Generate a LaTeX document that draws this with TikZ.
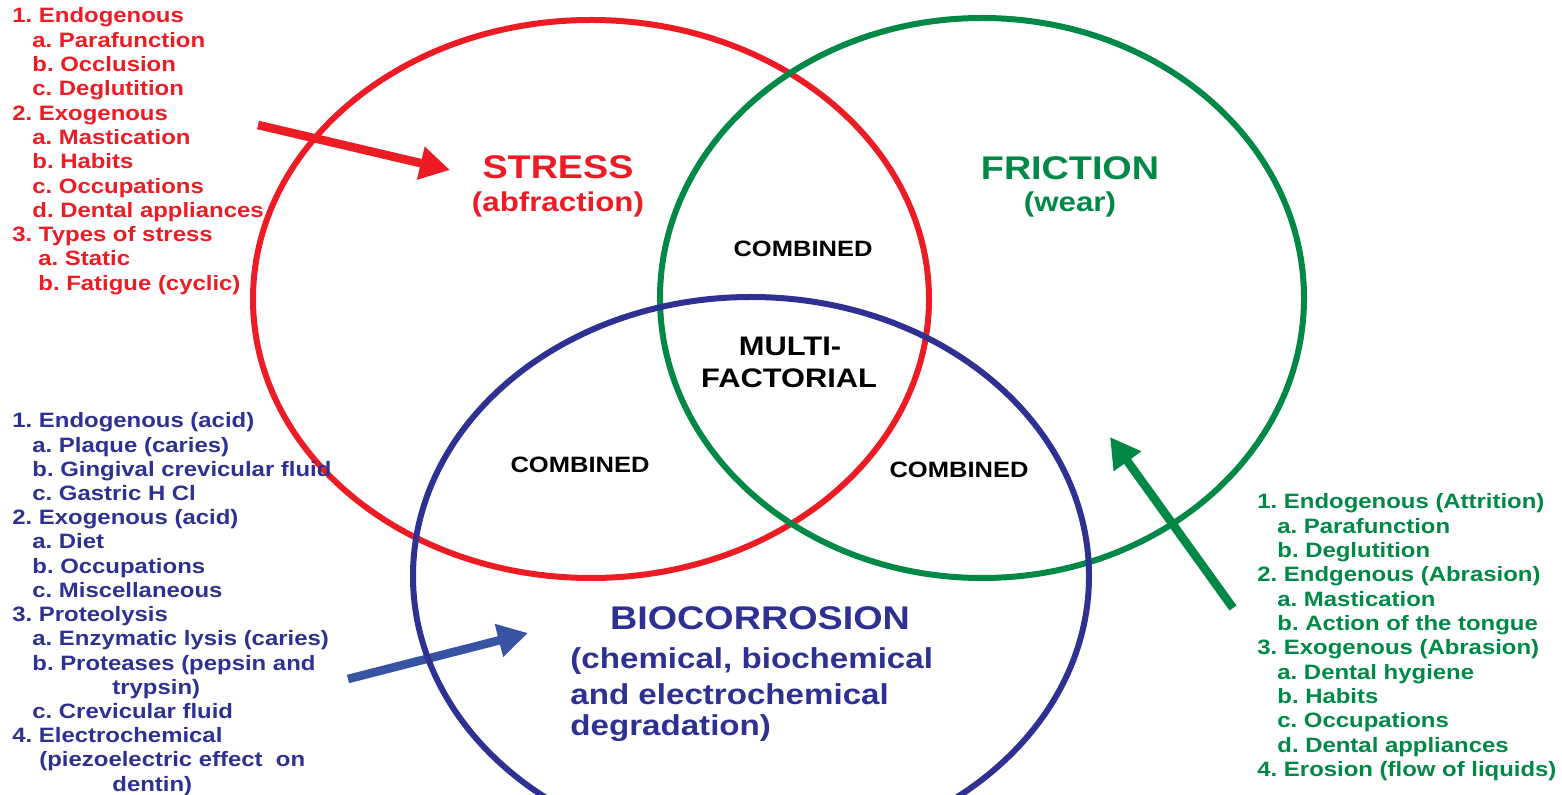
\documentclass[tikz,border=0pt]{standalone}
\usepackage{fontspec}
\setmainfont{Liberation Sans}[FakeStretch=1.15]
\usetikzlibrary{arrows.meta}
\frenchspacing
\definecolor{cred}{RGB}{237,28,36}
\definecolor{cgreen}{RGB}{0,137,70}
\definecolor{cblue}{RGB}{46,49,146}
\definecolor{cbluearr}{RGB}{56,82,164}
\tikzset{
  ring/.style={line width=3pt},
  bigarr/.style={line width=4.3pt, -{Triangle[length=15pt,width=16pt]}},
  lst/.style={anchor=base west, inner sep=0pt, font=\bfseries\fontsize{10.4}{12}\selectfont},
  head/.style={inner sep=0pt, font=\bfseries\fontsize{16.4}{18}\selectfont},
  subhead/.style={inner sep=0pt, font=\bfseries\fontsize{13.6}{15}\selectfont},
  comb/.style={inner sep=0pt, font=\bfseries\fontsize{11.1}{12}\selectfont},
  multi/.style={inner sep=0pt, font=\bfseries\fontsize{13.4}{15}\selectfont},
  bio/.style={inner sep=0pt, anchor=west, text=cblue, font=\bfseries\fontsize{14.4}{16}\selectfont},
}
\begin{document}
\begin{tikzpicture}[x=0.5pt,y=-0.5pt]
\useasboundingbox (0,0) rectangle (1562,795);
\clip (0,0) rectangle (1562,795);
% arrow end points
\coordinate (rtail) at (258,125);
\coordinate (rtip) at (450,170);
\coordinate (btail) at (348,679);
\coordinate (btip) at (528,633);
\coordinate (gtail) at (1233,608);
\coordinate (gtip) at (1110,437);
\draw[bigarr, cred] (rtail) -- (rtip);
\draw[bigarr, cbluearr] (btail) -- (btip);
% circles
\draw[ring, cred] (591,299) ellipse [x radius=338, y radius=279];
\draw[ring, cgreen] (982,298) ellipse [x radius=322, y radius=280];
\draw[ring, cblue] (751,576) ellipse [x radius=338, y radius=279];
\draw[bigarr, cgreen] (gtail) -- (gtip);
% headings
\node[head, text=cred] (stress) at (558,167) {STRESS};
\node[subhead, text=cred] (abfr) at (558,204) {(abfraction)};
\node[head, text=cgreen] (fric) at (1070,168) {FRICTION};
\node[subhead, text=cgreen] (wear) at (1070,204) {(wear)};
\node[comb] (c1) at (803,249) {COMBINED};
\node[comb] (c2) at (580,465) {COMBINED};
\node[comb] (c3) at (959,470) {COMBINED};
\node[multi] (m1) at (790,346) {MULTI-};
\node[multi] (m2) at (789,378) {FACTORIAL};
\node[head, text=cblue] (bioc) at (760,618) {BIOCORROSION};
\node[bio] (b1) at (570,661) {(chemical, biochemical};
\node[bio] (b2) at (570,694) {and electrochemical};
\node[bio] (b3) at (570,728) {degradation)};
% red list
\foreach \x/\t [count=\i from 0] in {12/{1. Endogenous},32/{a. Parafunction},32/{b. Occlusion},32/{c. Deglutition},12/{2. Exogenous},32/{a. Mastication},32/{b. Habits},32/{c. Occupations},32/{d. Dental appliances},12/{3. Types of stress},38/{a. Static},38/{b. Fatigue (cyclic)}}
  \node[lst, text=cred] (r\i) at (\x,{23+24.3*\i}) {\t};
% blue list
\foreach \x/\t [count=\i from 0] in {12/{1. Endogenous (acid)},32/{a. Plaque (caries)},32/{b. Gingival crevicular fluid},32/{c. Gastric H Cl},12/{2. Exogenous (acid)},32/{a. Diet},32/{b. Occupations},32/{c. Miscellaneous},12/{3. Proteolysis},32/{a. Enzymatic lysis (caries)},32/{b. Proteases (pepsin and},112/{trypsin)},32/{c. Crevicular fluid},12/{4. Electrochemical},39/{(piezoelectric effect~ on},112/{dentin)}}
  \node[lst, text=cblue] (l\i) at (\x,{428+24.2*\i}) {\t};
% green list
\foreach \x/\t [count=\i from 0] in {1257/{1. Endogenous (Attrition)},1277/{a. Parafunction},1277/{b. Deglutition},1257/{2. Endgenous (Abrasion)},1277/{a. Mastication},1277/{b. Action of the tongue},1257/{3. Exogenous (Abrasion)},1277/{a. Dental hygiene},1277/{b. Habits},1277/{c. Occupations},1277/{d. Dental appliances},1257/{4. Erosion (flow of liquids)}}
  \node[lst, text=cgreen] (g\i) at (\x,{509+24.3*\i}) {\t};
\end{tikzpicture}
\end{document}
